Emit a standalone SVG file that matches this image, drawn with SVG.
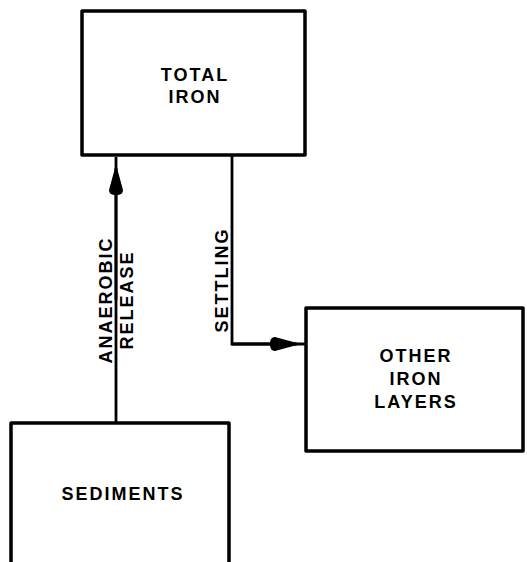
<svg xmlns="http://www.w3.org/2000/svg" width="527" height="562" viewBox="0 0 527 562">
<style>
.box{fill:#fff;stroke:#000;stroke-width:3.5;stroke-linejoin:round}
.lbl{font-family:"Liberation Sans",Arial,sans-serif;font-weight:bold;font-size:18px;letter-spacing:2px;fill:#000;text-anchor:middle}
.conn{fill:none;stroke:#000;stroke-width:2.8}
</style>
<defs>
<marker id="ah" viewBox="0 0 27 16" refX="27" refY="8" markerWidth="27" markerHeight="16" markerUnits="userSpaceOnUse" orient="auto">
<path d="M0,8 C0,3 2,1 5,1 L27,7 L27,9 L5,15 C2,15 0,13 0,8 Z" fill="#000"/>
</marker>
</defs>
<g id="connectors">
<path class="conn" d="M116,425 L116,157"/>
<path class="conn" d="M116,300 L116,168" marker-end="url(#ah)"/>
<path class="conn" d="M232,156 L232,344 L306,344"/>
<path class="conn" d="M232,344 L297,344" marker-end="url(#ah)"/>
<text class="lbl" transform="translate(112,300) rotate(-90)">ANAEROBIC</text>
<text class="lbl" transform="translate(133,300) rotate(-90)">RELEASE</text>
<text class="lbl" transform="translate(228,280) rotate(-90)">SETTLING</text>
</g>
<g id="total-iron">
<rect class="box" x="82" y="11" width="223" height="144"/>
<text class="lbl" x="195" y="81">TOTAL</text>
<text class="lbl" x="195" y="103">IRON</text>
</g>
<g id="other-iron-layers">
<rect class="box" x="306" y="308" width="217" height="143"/>
<text class="lbl" x="416" y="362">OTHER</text>
<text class="lbl" x="416" y="385">IRON</text>
<text class="lbl" x="416" y="408">LAYERS</text>
</g>
<g id="sediments">
<rect class="box" x="11" y="423" width="218" height="160"/>
<text class="lbl" x="123" y="500">SEDIMENTS</text>
</g>
</svg>
